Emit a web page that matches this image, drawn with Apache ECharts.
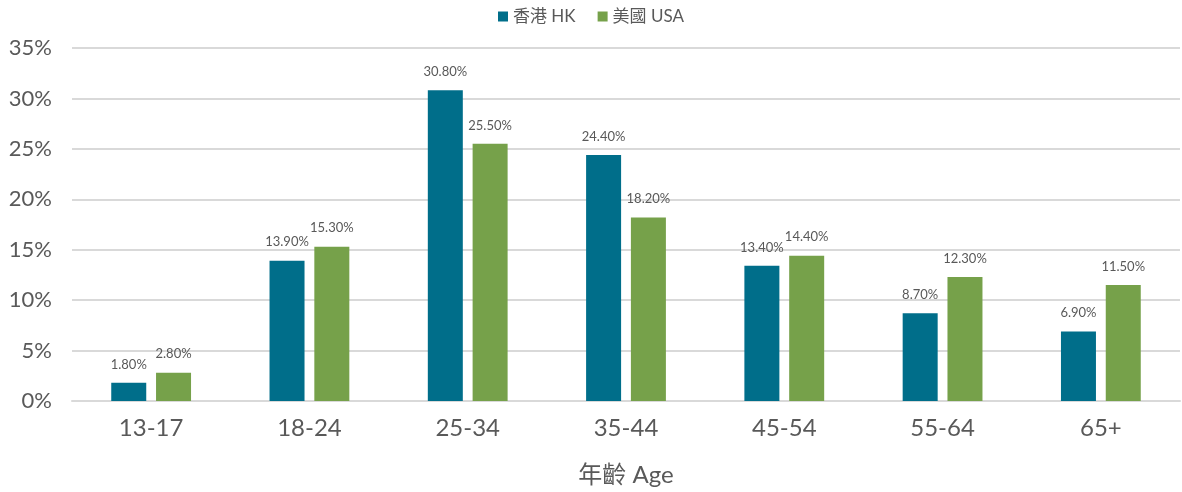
<!DOCTYPE html>
<html><head><meta charset="utf-8">
<script src="https://cdn.jsdelivr.net/npm/echarts@6/dist/echarts.min.js"></script>
<style>html,body{margin:0;padding:0;background:#fff}#c{width:1182px;height:492px}</style>
</head><body><div id="c"></div>
<script>
var categories = ['13-17','18-24','25-34','35-44','45-54','55-64','65+'];
var hk = [1.8, 13.9, 30.8, 24.4, 13.4, 8.7, 6.9];
var usa = [2.8, 15.3, 25.5, 18.2, 14.4, 12.3, 11.5];
var seriesNames = ['香港 HK', '美國 USA'];
var font = "'Lato', 'Noto Sans CJK TC', sans-serif";
var chart = echarts.init(document.getElementById('c'));
function lbl(){return {show:true,position:'top',distance:12,color:'#595959',fontSize:13,fontFamily:font,formatter:function(p){return p.value.toFixed(2)+'%';}};}
chart.setOption({
  animation:false,
  textStyle:{fontFamily:font},
  legend:{top:3,left:'center',itemWidth:10,itemHeight:10,itemGap:22,icon:'rect',
    textStyle:{color:'#595959',fontSize:17,fontFamily:font},data:seriesNames},
  grid:{left:72,right:2,top:48,bottom:91,containLabel:false},
  xAxis:{type:'category',data:categories,
    name:'年齡 Age',nameLocation:'middle',nameGap:62,
    nameTextStyle:{color:'#595959',fontSize:24,fontFamily:font},
    axisLine:{lineStyle:{color:'#d9d9d9',width:2}},axisTick:{show:false},
    axisLabel:{color:'#595959',fontSize:24,margin:15,fontFamily:font}},
  yAxis:{type:'value',min:0,max:35,interval:5,
    axisLabel:{formatter:'{value}%',color:'#595959',fontSize:22,margin:20,fontFamily:font},
    axisLine:{show:false},axisTick:{show:false},
    splitLine:{lineStyle:{color:'#d9d9d9',width:2}}},
  series:[
    {name:seriesNames[0],type:'bar',data:hk,barWidth:35,barGap:'28%',
     itemStyle:{color:'#006E8A'},label:lbl()},
    {name:seriesNames[1],type:'bar',data:usa,barWidth:35,
     itemStyle:{color:'#76A14A'},label:lbl()}
  ]
});
</script></body></html>
